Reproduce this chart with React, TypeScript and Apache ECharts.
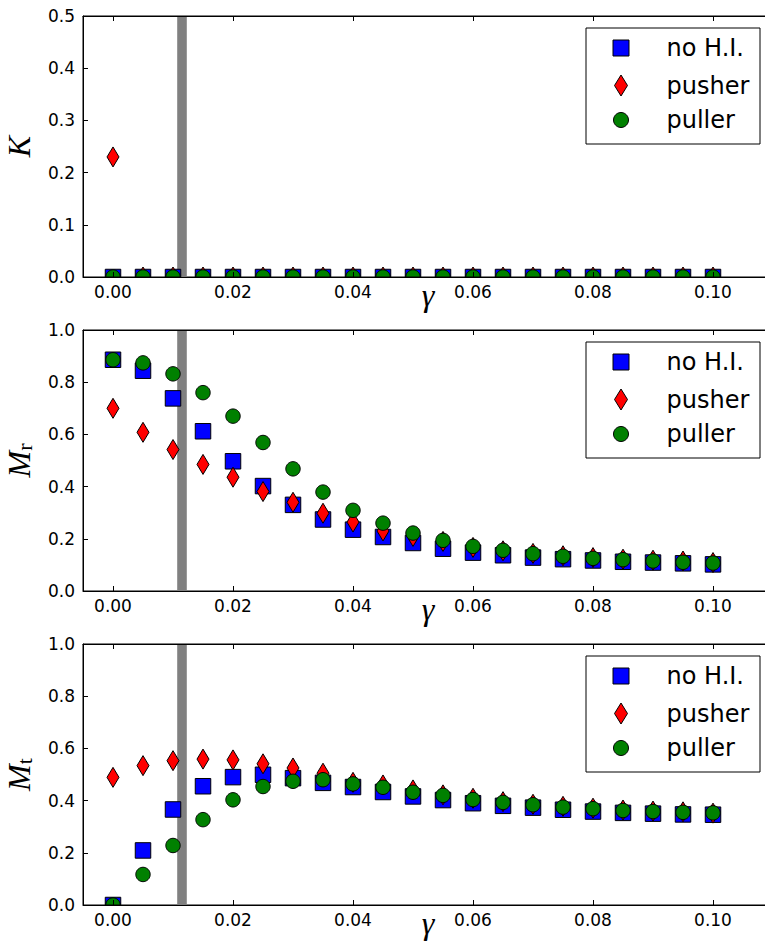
import { useEffect, useRef } from "react";
import * as echarts from "echarts";

// Active-swimmer parameter sweep over gamma
const gamma = [
  0, 0.005, 0.01, 0.015, 0.02, 0.025, 0.03, 0.035, 0.04, 0.045, 0.05, 0.055, 0.06,
  0.065, 0.07, 0.075, 0.08, 0.085, 0.09, 0.095, 0.1,
];

const kNoHI = [0, 0, 0, 0, 0, 0, 0, 0, 0, 0, 0, 0, 0, 0, 0, 0, 0, 0, 0, 0, 0];
const kPusher = [0.23, 0, 0, 0, 0, 0, 0, 0, 0, 0, 0, 0, 0, 0, 0, 0, 0, 0, 0, 0, 0];
const kPuller = [0, 0, 0, 0, 0, 0, 0, 0, 0, 0, 0, 0, 0, 0, 0, 0, 0, 0, 0, 0, 0];

const mrNoHI = [
  0.886, 0.844, 0.738, 0.612, 0.497, 0.402, 0.33, 0.274, 0.235, 0.207, 0.184, 0.162,
  0.147, 0.137, 0.128, 0.122, 0.117, 0.112, 0.109, 0.106, 0.102,
];
const mrPusher = [
  0.7, 0.608, 0.542, 0.485, 0.436, 0.381, 0.34, 0.298, 0.264, 0.23, 0.209, 0.19, 0.167,
  0.154, 0.144, 0.135, 0.128, 0.122, 0.118, 0.115, 0.109,
];
const mrPuller = [
  0.886, 0.874, 0.832, 0.76, 0.67, 0.569, 0.468, 0.379, 0.309, 0.26, 0.222, 0.194, 0.171,
  0.156, 0.143, 0.133, 0.125, 0.12, 0.115, 0.11, 0.107,
];

const mtNoHI = [
  0, 0.209, 0.366, 0.455, 0.49, 0.499, 0.486, 0.468, 0.452, 0.433, 0.416, 0.402, 0.39,
  0.38, 0.373, 0.365, 0.358, 0.353, 0.35, 0.347, 0.346,
];
const mtPusher = [
  0.489, 0.534, 0.553, 0.559, 0.556, 0.541, 0.525, 0.505, 0.47, 0.46, 0.441, 0.422, 0.409,
  0.396, 0.386, 0.378, 0.371, 0.364, 0.36, 0.357, 0.352,
];
const mtPuller = [
  0, 0.117, 0.228, 0.327, 0.403, 0.454, 0.474, 0.48, 0.464, 0.451, 0.432, 0.42, 0.404,
  0.393, 0.384, 0.375, 0.369, 0.362, 0.358, 0.355, 0.353,
];

const xTicks = [0, 0.02, 0.04, 0.06, 0.08, 0.1];
const xMin = -0.005;
const xMax = 0.11;
// shaded vertical band marking the critical gamma
const bandLo = 0.0107;
const bandHi = 0.0123;

const seriesNames = ["no H.I.", "pusher", "puller"];
const seriesColors = ["#0000ff", "#ff0000", "#008000"];
const seriesShapes = ["square", "diamond", "circle"];

const panels = [
  { label: "K", sub: "", yMax: 0.5, yStep: 0.1, values: [kNoHI, kPusher, kPuller] },
  { label: "M", sub: "r", yMax: 1.0, yStep: 0.2, values: [mrNoHI, mrPusher, mrPuller] },
  { label: "M", sub: "t", yMax: 1.0, yStep: 0.2, values: [mtNoHI, mtPusher, mtPuller] },
];

const GRID_LEFT = 83;
const GRID_W = 690;
const GRID_H = 261;
const gridTops = [16, 330, 644];

const MATH_FONT = "'Liberation Serif', 'DejaVu Serif', serif";
const TEXT_FONT = "'DejaVu Sans', sans-serif";

type Pt = number[];

// Sutherland–Hodgman clip of a polygon against an axis-aligned rectangle
function clipToRect(poly: Pt[], x0: number, y0: number, x1: number, y1: number): Pt[] {
  const edges: [(p: Pt) => boolean, (a: Pt, b: Pt) => Pt][] = [
    [(p) => p[0] >= x0, (a, b) => [x0, a[1] + ((b[1] - a[1]) * (x0 - a[0])) / (b[0] - a[0])]],
    [(p) => p[0] <= x1, (a, b) => [x1, a[1] + ((b[1] - a[1]) * (x1 - a[0])) / (b[0] - a[0])]],
    [(p) => p[1] >= y0, (a, b) => [a[0] + ((b[0] - a[0]) * (y0 - a[1])) / (b[1] - a[1]), y0]],
    [(p) => p[1] <= y1, (a, b) => [a[0] + ((b[0] - a[0]) * (y1 - a[1])) / (b[1] - a[1]), y1]],
  ];
  let out = poly;
  for (const [inside, cross] of edges) {
    const input = out;
    out = [];
    for (let i = 0; i < input.length; i++) {
      const cur = input[i];
      const prev = input[(i + input.length - 1) % input.length];
      if (inside(cur)) {
        if (!inside(prev)) out.push(cross(prev, cur));
        out.push(cur);
      } else if (inside(prev)) {
        out.push(cross(prev, cur));
      }
    }
    if (!out.length) break;
  }
  return out;
}

function markerOutline(shape: string, cx: number, cy: number): Pt[] {
  if (shape === "square") {
    const h = 7.75;
    return [
      [cx - h, cy - h],
      [cx + h, cy - h],
      [cx + h, cy + h],
      [cx - h, cy + h],
    ];
  }
  if (shape === "diamond") {
    return [
      [cx, cy - 10],
      [cx + 6, cy],
      [cx, cy + 10],
      [cx - 6, cy],
    ];
  }
  const r = 7.2;
  const pts: Pt[] = [];
  for (let k = 0; k < 48; k++) {
    const a = (k / 48) * Math.PI * 2;
    pts.push([cx + r * Math.cos(a), cy + r * Math.sin(a)]);
  }
  return pts;
}

function markerRenderer(shape: string, color: string, yMax: number) {
  return (_params: any, api: any) => {
    const p = api.coord([api.value(0), api.value(1)]);
    // plot frame corners, taken from the axes' own scales
    const lo = api.coord([xMin, 0]);
    const hi = api.coord([xMax, yMax]);
    const x0 = Math.min(lo[0], hi[0]);
    const x1 = Math.max(lo[0], hi[0]);
    const y0 = Math.min(lo[1], hi[1]);
    const y1 = Math.max(lo[1], hi[1]);
    const pts = clipToRect(markerOutline(shape, p[0], p[1]), x0, y0, x1, y1);
    if (pts.length < 3) return null;
    return {
      type: "polygon",
      shape: { points: pts },
      style: { fill: color, stroke: "#000", lineWidth: 1 },
    };
  };
}

function buildOption() {
  const grid: any[] = [];
  const xAxis: any[] = [];
  const yAxis: any[] = [];
  const series: any[] = [];
  const legend: any[] = [];
  const graphic: any[] = [];

  const legendIcons = [
    { icon: "rect", w: 16, h: 16, dy: 20 },
    { icon: "diamond", w: 13, h: 21, dy: 57.5 },
    { icon: "circle", w: 15, h: 15, dy: 92 },
  ];
  const legendMarkerX = 620.5;
  const legendTextX = 666;
  const legendLine = 24;

  panels.forEach((panel, pi) => {
    const top = gridTops[pi];
    grid.push({
      left: GRID_LEFT,
      top,
      width: GRID_W,
      height: GRID_H,
      outerBoundsMode: "none",
      containLabel: false,
      show: true,
      borderColor: "#000",
      borderWidth: 1,
      backgroundColor: "#fff",
    });

    xAxis.push({
      gridIndex: pi,
      type: "value",
      position: "bottom",
      min: xMin,
      max: xMax,
      z: 5,
      name: "γ",
      nameLocation: "middle",
      nameGap: 2,
      nameMoveOverlap: false,
      nameTextStyle: { fontFamily: MATH_FONT, fontStyle: "italic", fontSize: 32, color: "#000" },
      axisLine: { show: true, onZero: false, lineStyle: { color: "#000", width: 1 } },
      axisTick: { show: true, inside: true, length: 5, customValues: xTicks, lineStyle: { color: "#000" } },
      axisLabel: {
        customValues: xTicks,
        formatter: (v: number) => v.toFixed(2),
        fontSize: 17,
        fontFamily: TEXT_FONT,
        color: "#000",
        margin: 6,
      },
      splitLine: { show: false },
    });
    xAxis.push({
      gridIndex: pi,
      type: "value",
      position: "top",
      min: xMin,
      max: xMax,
      z: 5,
      axisLine: { show: true, onZero: false, lineStyle: { color: "#000", width: 1 } },
      axisTick: { show: true, inside: true, length: 5, customValues: xTicks, lineStyle: { color: "#000" } },
      axisLabel: { show: false },
      splitLine: { show: false },
    });

    const yName = panel.sub ? `{m|${panel.label}}{s|${panel.sub}}` : `{m|${panel.label}}`;
    yAxis.push({
      gridIndex: pi,
      type: "value",
      min: 0,
      max: panel.yMax,
      interval: panel.yStep,
      z: 5,
      name: yName,
      nameLocation: "middle",
      nameRotate: 90,
      nameGap: 48,
      nameMoveOverlap: false,
      nameTextStyle: {
        color: "#000",
        rich: {
          m: { fontFamily: MATH_FONT, fontStyle: "italic", fontSize: 32, color: "#000" },
          s: { fontFamily: MATH_FONT, fontSize: 22, color: "#000", verticalAlign: "bottom", lineHeight: 10 },
        },
      },
      axisLine: { show: true, onZero: false, lineStyle: { color: "#000", width: 1 } },
      axisTick: { show: true, inside: true, length: 5, lineStyle: { color: "#000" } },
      axisLabel: {
        formatter: (v: number) => v.toFixed(1),
        fontSize: 17,
        fontFamily: TEXT_FONT,
        color: "#000",
        margin: 8,
        showMinLabel: true,
        showMaxLabel: true,
      },
      splitLine: { show: false },
    });

    panel.values.forEach((vals, si) => {
      const s: any = {
        type: "custom",
        name: seriesNames[si],
        xAxisIndex: pi * 2,
        yAxisIndex: pi,
        z: 2 + si * 0.01,
        itemStyle: { color: seriesColors[si], borderColor: "#000", borderWidth: 1 },
        encode: { x: 0, y: 1 },
        data: gamma.map((g, i) => [g, vals[i]]),
        renderItem: markerRenderer(seriesShapes[si], seriesColors[si], panel.yMax),
      };
      if (si === 0) {
        s.markArea = {
          silent: true,
          z: 1,
          itemStyle: { color: "#808080", opacity: 1 },
          data: [[{ xAxis: bandLo }, { xAxis: bandHi }]],
        };
      }
      series.push(s);
    });

    // legend frame
    const boxTop = top + 12;
    graphic.push({
      type: "rect",
      z: 5,
      shape: { x: 586, y: boxTop, width: 174, height: 116 },
      style: { fill: "#fff", stroke: "#000", lineWidth: 1 },
    });

    legendIcons.forEach((li, si) => {
      const left = legendMarkerX - li.w / 2;
      const cy = boxTop + li.dy;
      legend.push({
        orient: "vertical",
        z: 6,
        left,
        top: cy - legendLine / 2,
        padding: 0,
        itemWidth: li.w,
        itemHeight: li.h,
        data: [
          {
            name: seriesNames[si],
            icon: li.icon,
            itemStyle: { color: seriesColors[si], borderColor: "#000", borderWidth: 1 },
          },
        ],
        textStyle: {
          fontSize: 24,
          fontFamily: TEXT_FONT,
          color: "#000",
          lineHeight: legendLine,
          padding: [0, 0, 0, legendTextX - (left + li.w + 5)],
        },
      });
    });
  });

  return {
    animation: false,
    backgroundColor: "#fff",
    textStyle: { fontFamily: TEXT_FONT },
    grid,
    xAxis,
    yAxis,
    legend,
    graphic,
    series,
  };
}

export default function App() {
  const ref = useRef<HTMLDivElement>(null);

  useEffect(() => {
    if (!ref.current) return;
    const chart = echarts.init(ref.current, undefined, { renderer: "svg" });
    chart.setOption(buildOption() as any);
    return () => chart.dispose();
  }, []);

  return (
    <div
      style={{
        position: "fixed",
        left: 0,
        top: 0,
        width: 765,
        height: 942,
        overflow: "hidden",
        background: "#fff",
      }}
    >
      <div ref={ref} style={{ width: 800, height: 942 }} />
    </div>
  );
}
